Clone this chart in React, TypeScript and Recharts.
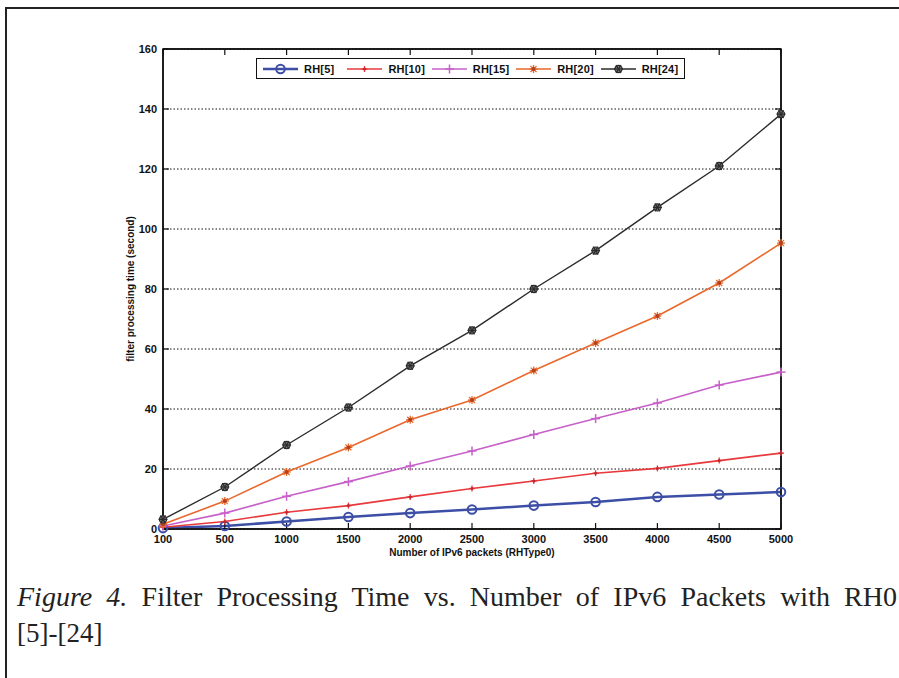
import React from 'react';
import {
  LineChart,
  Line,
  XAxis,
  YAxis,
  CartesianGrid,
  ReferenceArea,
  Label
} from 'recharts';

// number of IPv6 packets (x categories)
const PACKETS = [100, 500, 1000, 1500, 2000, 2500, 3000, 3500, 4000, 4500, 5000];

// filter processing time (second)
const RH5 = [0.3, 1.0, 2.5, 4.0, 5.3, 6.5, 7.8, 9.0, 10.7, 11.5, 12.3];
const RH10 = [0.6, 2.5, 5.6, 7.8, 10.7, 13.5, 16.0, 18.6, 20.2, 22.8, 25.3];
const RH15 = [1.0, 5.3, 10.9, 15.8, 21.0, 26.0, 31.5, 36.8, 42.0, 48.0, 52.3];
const RH20 = [1.6, 9.3, 19.0, 27.2, 36.4, 43.0, 52.8, 62.0, 71.0, 82.0, 95.3];
const RH24 = [3.2, 14.0, 28.0, 40.5, 54.4, 66.2, 80.0, 92.8, 107.2, 121.0, 138.3];

const Y_TICKS = [0, 20, 40, 60, 80, 100, 120, 140, 160];

const SERIES = [
  { key: 'rh5', name: 'RH[5]', color: '#3c4ea6', width: 2.5, marker: 'circle' },
  { key: 'rh10', name: 'RH[10]', color: '#e8393c', width: 1.6, marker: 'point' },
  { key: 'rh15', name: 'RH[15]', color: '#c760c8', width: 1.6, marker: 'plus' },
  { key: 'rh20', name: 'RH[20]', color: '#e9682b', width: 1.6, marker: 'star' },
  { key: 'rh24', name: 'RH[24]', color: '#2b2b2b', width: 1.4, marker: 'hex' }
];

const data = PACKETS.map((n, i) => ({
  n,
  rh5: RH5[i],
  rh10: RH10[i],
  rh15: RH15[i],
  rh20: RH20[i],
  rh24: RH24[i]
}));

const Marker = ({ cx, cy, type, color }: any) => {
  if (cx == null || cy == null) return null;
  if (type === 'circle') {
    return <circle cx={cx} cy={cy} r={4.3} fill="none" stroke={color} strokeWidth={2} />;
  }
  if (type === 'point') {
    return (
      <g stroke={color} strokeWidth={1.3}>
        <line x1={cx - 3} y1={cy} x2={cx + 3} y2={cy} />
        <line x1={cx} y1={cy - 3} x2={cx} y2={cy + 3} />
        <circle cx={cx} cy={cy} r={1.5} fill="#c0282c" stroke="none" />
      </g>
    );
  }
  if (type === 'plus') {
    return (
      <g stroke={color} strokeWidth={1.5}>
        <line x1={cx - 4.5} y1={cy} x2={cx + 4.5} y2={cy} />
        <line x1={cx} y1={cy - 4.5} x2={cx} y2={cy + 4.5} />
      </g>
    );
  }
  if (type === 'star') {
    return (
      <g stroke={color} strokeWidth={1.3}>
        <line x1={cx - 4} y1={cy} x2={cx + 4} y2={cy} />
        <line x1={cx} y1={cy - 4} x2={cx} y2={cy + 4} />
        <line x1={cx - 3} y1={cy - 3} x2={cx + 3} y2={cy + 3} />
        <line x1={cx - 3} y1={cy + 3} x2={cx + 3} y2={cy - 3} />
        <circle cx={cx} cy={cy} r={2} fill="#b3401c" stroke="none" />
      </g>
    );
  }
  return (
    <g stroke={color} strokeWidth={1.2}>
      <circle cx={cx} cy={cy} r={3.6} fill="#777" />
      <line x1={cx - 4.5} y1={cy} x2={cx + 4.5} y2={cy} />
      <line x1={cx - 2.5} y1={cy - 4} x2={cx + 2.5} y2={cy + 4} />
      <line x1={cx - 2.5} y1={cy + 4} x2={cx + 2.5} y2={cy - 4} />
    </g>
  );
};

const FONT = 'Liberation Sans, Arial, sans-serif';
const tickStyle = { fill: '#111', fontSize: 11, fontWeight: 700, fontFamily: FONT };

const LegendBox = () => (
  <div
    style={{
      position: 'absolute',
      left: 256,
      top: 58,
      width: 422,
      height: 19,
      border: '1.5px solid #111',
      background: '#fff',
      display: 'flex',
      alignItems: 'center',
      paddingLeft: 5,
      boxSizing: 'content-box',
      fontFamily: FONT,
      fontSize: 11,
      fontWeight: 700,
      letterSpacing: 0.2,
      color: '#111'
    }}
  >
    {SERIES.map((s) => (
      <div key={s.key} style={{ display: 'flex', alignItems: 'center', width: 86 }}>
        <svg width={37} height={14} style={{ display: 'block' }}>
          <line x1={1} y1={7} x2={36} y2={7} stroke={s.color} strokeWidth={s.width} />
          <Marker cx={18.5} cy={7} type={s.marker} color={s.color} />
        </svg>
        <span style={{ marginLeft: 5 }}>{s.name}</span>
      </div>
    ))}
  </div>
);

export default function App() {
  return (
    <div
      style={{
        position: 'absolute',
        left: 0,
        top: 0,
        width: 899,
        height: 678,
        overflow: 'hidden',
        background: '#fff'
      }}
    >
      <div
        style={{
          position: 'absolute',
          left: 5,
          top: 7,
          width: 920,
          height: 700,
          borderLeft: '2px solid #222',
          borderTop: '2px solid #222'
        }}
      />
      <div style={{ position: 'absolute', left: 0, top: 0 }}>
        <LineChart
          width={899}
          height={570}
          data={data}
          margin={{ top: 48, right: 117, bottom: 11, left: 97 }}
        >
          <CartesianGrid
            vertical={false}
            stroke="#111"
            strokeDasharray="1.5 2"
            strokeWidth={1}
            horizontalValues={Y_TICKS}
          />
          <XAxis
            dataKey="n"
            type="category"
            height={30}
            interval={0}
            padding={{ left: 0, right: 0 }}
            axisLine={{ stroke: '#111', strokeWidth: 1.5 }}
            tickLine={{ stroke: '#111', strokeWidth: 1.2 }}
            tickSize={-6}
            tickMargin={12}
            tick={tickStyle}
          >
            <Label
              value="Number of IPv6 packets (RHType0)"
              position="insideBottom"
              offset={3}
              style={{ fill: '#111', fontSize: 10, fontWeight: 700, fontFamily: FONT }}
            />
          </XAxis>
          <XAxis
            xAxisId="top"
            dataKey="n"
            type="category"
            orientation="top"
            height={1}
            interval={0}
            padding={{ left: 0, right: 0 }}
            axisLine={{ stroke: '#111', strokeWidth: 1.5 }}
            tickLine={{ stroke: '#111', strokeWidth: 1.2 }}
            tickSize={-6}
            tick={() => <g />}
          />
          <YAxis
            width={66}
            domain={[0, 160]}
            ticks={Y_TICKS}
            interval={0}
            axisLine={{ stroke: '#111', strokeWidth: 1.5 }}
            tickLine={{ stroke: '#111', strokeWidth: 1.2 }}
            tickSize={-6}
            tickMargin={12}
            tick={tickStyle}
          >
            <Label
              value="filter processing time (second)"
              angle={-90}
              position="center"
              style={{ fill: '#111', fontSize: 10, fontWeight: 700, fontFamily: FONT, textAnchor: 'middle' }}
            />
          </YAxis>
          <YAxis
            yAxisId="right"
            orientation="right"
            width={1}
            domain={[0, 160]}
            ticks={Y_TICKS}
            interval={0}
            axisLine={{ stroke: '#111', strokeWidth: 1.5 }}
            tickLine={{ stroke: '#111', strokeWidth: 1.2 }}
            tickSize={-6}
            tick={() => <g />}
          />
          <ReferenceArea
            x1={100}
            x2={5000}
            y1={0}
            y2={160}
            fill="none"
            stroke="#111"
            strokeWidth={1.5}
            ifOverflow="visible"
          />
          <Line
            xAxisId="top"
            yAxisId="right"
            dataKey="rh5"
            stroke="none"
            dot={false}
            activeDot={false}
            legendType="none"
            isAnimationActive={false}
          />
          {SERIES.map((s) => (
            <Line
              key={s.key}
              dataKey={s.key}
              name={s.name}
              stroke={s.color}
              strokeWidth={s.width}
              isAnimationActive={false}
              activeDot={false}
              dot={(p: any) => (
                <Marker key={`${s.key}-${p.index}`} cx={p.cx} cy={p.cy} type={s.marker} color={s.color} />
              )}
            />
          ))}
        </LineChart>
      </div>
      <LegendBox />
      <div
        style={{
          position: 'absolute',
          left: 17,
          top: 578,
          width: 880,
          fontFamily: 'Liberation Serif, Times New Roman, serif',
          fontSize: 28,
          lineHeight: '37px',
          color: '#222'
        }}
      >
        <div style={{ textAlign: 'justify', textAlignLast: 'justify' }}>
          <i>Figure 4.</i> Filter Processing Time vs. Number of IPv6 Packets with RH0
        </div>
        <div style={{ fontSize: 27 }}>[5]-[24]</div>
      </div>
    </div>
  );
}
